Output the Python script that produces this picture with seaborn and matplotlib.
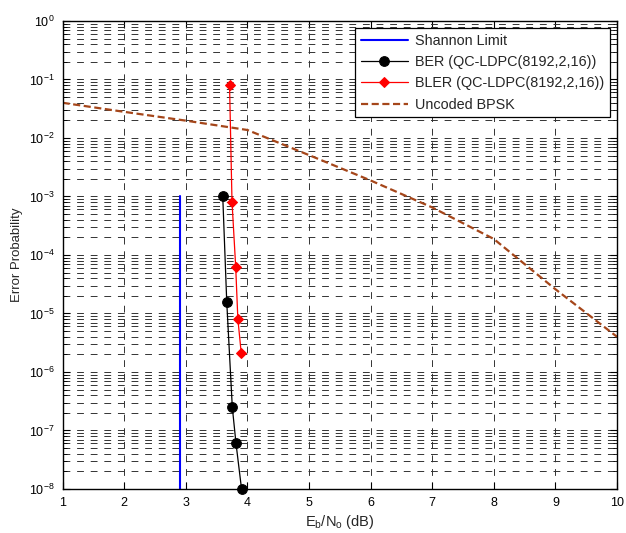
import numpy as np
import pandas as pd
import matplotlib
matplotlib.use("Agg")
import matplotlib.pyplot as plt
import seaborn as sns
from matplotlib.ticker import LogLocator, FixedLocator, NullFormatter

# ---- data ----
shannon_x = [2.9, 2.9]
shannon_y = [1e-3, 1e-8]

ber_x = [3.60, 3.665, 3.755, 3.815, 3.905]
ber_y = [1.0e-3, 1.55e-5, 2.5e-7, 6.0e-8, 1.0e-8]

bler_x = [3.71, 3.75, 3.81, 3.845, 3.90]
bler_y = [8.2e-2, 8.2e-4, 6.3e-5, 8.1e-6, 2.1e-6]

bpsk_x = [1, 2, 3, 4, 5, 6, 7, 8, 9, 10]
bpsk_y = [0.040, 0.028, 0.0198, 0.0137, 5.1e-3, 1.88e-3, 6.5e-4, 1.88e-4, 2.6e-5, 4.0e-6]

labels = ["Shannon Limit", "BER (QC-LDPC(8192,2,16))",
          "BLER (QC-LDPC(8192,2,16))", "Uncoded BPSK"]
xticks = [1, 2, 3, 4, 5, 6, 7, 8, 9, 10]

sns.set_style("ticks")
plt.rcParams["font.family"] = ["Liberation Sans", "DejaVu Sans"]
plt.rcParams["mathtext.default"] = "regular"
plt.rcParams["xtick.direction"] = "in"
plt.rcParams["ytick.direction"] = "in"

fig = plt.figure(figsize=(6.26, 5.33), dpi=100)
ax = fig.add_axes([0.100, 0.0826, 0.8856, 0.878])

sns.lineplot(x=shannon_x, y=shannon_y, ax=ax, color="#0000ff", lw=1.5,
             sort=False, estimator=None, label=labels[0])
sns.lineplot(x=ber_x, y=ber_y, ax=ax, color="black", lw=0.9, marker="o",
             markersize=7, markeredgecolor="black", sort=False, estimator=None,
             label=labels[1], clip_on=False, zorder=5)
sns.lineplot(x=bler_x, y=bler_y, ax=ax, color="#ff0000", lw=0.9, marker="D",
             markersize=5.5, markeredgecolor="#ff0000", sort=False, estimator=None,
             label=labels[2], zorder=5)
sns.lineplot(x=bpsk_x, y=bpsk_y, ax=ax, color="#a5461a", lw=1.6,
             sort=False, estimator=None, label=labels[3])
ax.lines[-1].set_dashes([3.2, 1.6])

ax.set_yscale("log")
ax.set_xlim(1, 10)
ax.set_ylim(1e-8, 1)
ax.xaxis.set_major_locator(FixedLocator(xticks))
ax.yaxis.set_major_locator(LogLocator(base=10, numticks=20))
ax.yaxis.set_minor_locator(LogLocator(base=10, subs=np.arange(2, 10), numticks=20))
ax.yaxis.set_minor_formatter(NullFormatter())

grid_ls = (0, (7, 7))
ax.grid(True, which="major", axis="both", color="0.2", lw=0.7, ls=grid_ls)
ax.grid(True, which="minor", axis="y", color="0.2", lw=0.7, ls=grid_ls)

ax.tick_params(which="both", top=True, right=True, labelsize=9, colors="black", pad=6)
ax.tick_params(which="major", length=5, width=0.8)
ax.tick_params(which="minor", length=3, width=0.6)
for s in ax.spines.values():
    s.set_visible(True)
    s.set_color("black")
    s.set_linewidth(1.0)

ax.set_xlabel("E$_b$/N$_o$ (dB)", fontsize=10.5, labelpad=3)
ax.set_ylabel("Error Probability", fontsize=9.5, labelpad=4)

leg = ax.legend(loc="upper right", fontsize=10.4, frameon=True, fancybox=False,
                edgecolor="black", framealpha=1, handlelength=3.3,
                handletextpad=0.45, labelspacing=0.5, borderaxespad=0.5)
leg.get_frame().set_linewidth(0.9)

fig.savefig("out.png", dpi=100)
